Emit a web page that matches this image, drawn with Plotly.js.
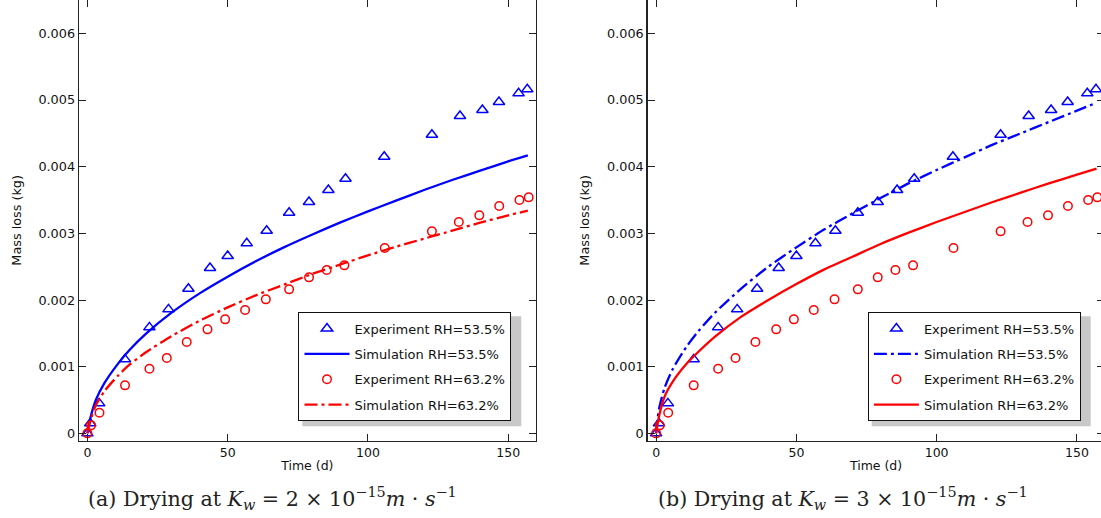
<!DOCTYPE html>
<html>
<head>
<meta charset="utf-8">
<script src="https://cdn.plot.ly/plotly-3.0.1.min.js"></script>
<style>
  html, body { margin: 0; padding: 0; overflow: hidden; background: #fff; }
  #chart { width: 1108px; height: 518px; }
</style>
</head>
<body>
<div id="chart"></div>
<script>
// ---- Data ----
const timeExp535 = [0, 1, 4.2, 13.4, 22.1, 28.9, 36, 43.7, 50, 56.8, 63.9, 71.9, 79, 85.9, 92, 105.8, 122.8, 132.8, 140.8, 146.7, 153.7, 156.8];
const massExp535 = [0, 0.00015, 0.00045, 0.00111, 0.00159, 0.00186, 0.00217, 0.00248, 0.00266, 0.00285, 0.00304, 0.00331, 0.00347, 0.00365, 0.00382, 0.00415, 0.00448, 0.00476, 0.00485, 0.00497, 0.00510, 0.00516];

const timeExp632 = [0, 1.3, 4.3, 13.4, 22.1, 28.3, 35.4, 42.8, 49.1, 56.2, 63.6, 71.9, 79, 85.3, 91.6, 106, 122.8, 132.4, 139.7, 146.8, 154, 157.3];
const massExp632 = [0, 0.00012, 0.00031, 0.00072, 0.00097, 0.00113, 0.00137, 0.00156, 0.00171, 0.00185, 0.00201, 0.00216, 0.00234, 0.00245, 0.00252, 0.00278, 0.00303, 0.00317, 0.00327, 0.00341, 0.00350, 0.00354];

const timeSim = [0, 1, 3, 6, 11, 15, 21, 30, 40, 50, 60, 70, 80, 90, 100, 110, 120, 130, 140, 150, 157];
// (a) Kw = 2e-15
const simA535 = [0, 0.00022, 0.00050, 0.00075, 0.00105, 0.00125, 0.00150, 0.00181, 0.00210, 0.00235, 0.00258, 0.00279, 0.00298, 0.00316, 0.00333, 0.00349, 0.00365, 0.00380, 0.00394, 0.00408, 0.00417];
const simA632 = [0, 0.00018, 0.00042, 0.00063, 0.00087, 0.00103, 0.00122, 0.00146, 0.00169, 0.00189, 0.00207, 0.00223, 0.00239, 0.00253, 0.00267, 0.00280, 0.00292, 0.00304, 0.00316, 0.00327, 0.00334];
// (b) Kw = 3e-15
const simB535 = [0, 0.00036, 0.00068, 0.00097, 0.00131, 0.00153, 0.00181, 0.00216, 0.00250, 0.00279, 0.00306, 0.00330, 0.00353, 0.00375, 0.00395, 0.00414, 0.00433, 0.00450, 0.00467, 0.00484, 0.00496];
const simB632 = [0, 0.00025, 0.00055, 0.00078, 0.00105, 0.00122, 0.00145, 0.00174, 0.00200, 0.00224, 0.00246, 0.00265, 0.00284, 0.00301, 0.00317, 0.00332, 0.00347, 0.00361, 0.00375, 0.00388, 0.00397];

const xTicks = [0, 50, 100, 150];
const yTicks = [0, 0.001, 0.002, 0.003, 0.004, 0.005, 0.006];
const yTickLabels = ['0', '0.001', '0.002', '0.003', '0.004', '0.005', '0.006'];
const labels = ['Experiment RH=53.5%', 'Simulation RH=53.5%', 'Experiment RH=63.2%', 'Simulation RH=63.2%'];
const captionA = '(a) Drying at <i>K</i><sub><i>w</i></sub> = 2 × 10<sup>−15</sup><i>m</i> · <i>s</i><sup>−1</sup>';
const captionB = '(b) Drying at <i>K</i><sub><i>w</i></sub> = 3 × 10<sup>−15</sup><i>m</i> · <i>s</i><sup>−1</sup>';

// ---- Styling ----
const BLUE = '#0000ff', RED = '#ff0000';
const DASHDOT = '13px,4px,3px,4px';
const W = 1108, H = 518;
const FONT = 'DejaVu Sans';

function expTrace(x, y, sym, color, name, xa, ya, lg, grp) {
  return { type: 'scatter', mode: 'markers', x: x, y: y, name: name, xaxis: xa, yaxis: ya, legend: lg, legendgroup: grp,
    marker: { symbol: sym, size: sym === 'circle-open' ? 8.5 : 10, color: color, line: { color: color, width: 1.5 } } };
}
function simTrace(x, y, dash, color, name, xa, ya, lg, grp) {
  return { type: 'scatter', mode: 'lines', x: x, y: y, name: name, xaxis: xa, yaxis: ya, legend: lg, legendgroup: grp,
    line: { color: color, width: 2.3, dash: dash, shape: 'spline', smoothing: 0.6 } };
}

const traces = [
  expTrace(timeExp535, massExp535, 'triangle-up-open', BLUE, labels[0], 'x', 'y', 'legend', 'a1'),
  simTrace(timeSim, simA535, 'solid', BLUE, labels[1], 'x', 'y', 'legend', 'a2'),
  expTrace(timeExp632, massExp632, 'circle-open', RED, labels[2], 'x', 'y', 'legend', 'a3'),
  simTrace(timeSim, simA632, DASHDOT, RED, labels[3], 'x', 'y', 'legend', 'a4'),
  expTrace(timeExp535, massExp535, 'triangle-up-open', BLUE, labels[0], 'x2', 'y2', 'legend2', 'b1'),
  simTrace(timeSim, simB535, DASHDOT, BLUE, labels[1], 'x2', 'y2', 'legend2', 'b2'),
  expTrace(timeExp632, massExp632, 'circle-open', RED, labels[2], 'x2', 'y2', 'legend2', 'b3'),
  simTrace(timeSim, simB632, 'solid', RED, labels[3], 'x2', 'y2', 'legend2', 'b4')
];

const plotBottom = 440.7;
const yDom = [(H - plotBottom) / H, 1];

function xAxis(domPx, anchor) {
  return {
    domain: [domPx[0] / W, domPx[1] / W], anchor: anchor, range: [-3, 159.8],
    tickvals: xTicks, ticks: 'inside', ticklen: 7, tickwidth: 1, tickcolor: '#222',
    showline: true, linecolor: '#222', linewidth: 1.4, mirror: 'ticks',
    showgrid: false, zeroline: false,
    tickfont: { family: FONT, size: 12.5, color: '#111' },
    title: { text: 'Time (d)', font: { family: FONT, size: 12.5, color: '#111' }, standoff: 2 }
  };
}
function yAxis(anchor) {
  return {
    domain: yDom, anchor: anchor, range: [-0.00011, 0.0065],
    tickvals: yTicks, ticktext: yTickLabels, ticks: 'inside', ticklen: 7, tickwidth: 1, tickcolor: '#222',
    showline: true, linecolor: '#222', linewidth: 1.4, mirror: 'ticks',
    showgrid: false, zeroline: false,
    tickfont: { family: FONT, size: 12.8, color: '#111' },
    title: { text: 'Mass loss (kg)', font: { family: FONT, size: 12.8, color: '#111' }, standoff: 14 }
  };
}
function legendAt(xPx, yPx) {
  return {
    x: xPx / W, y: 1 - yPx / H, xanchor: 'left', yanchor: 'top',
    bgcolor: '#ffffff', bordercolor: '#111', borderwidth: 1.2,
    font: { family: FONT, size: 13, color: '#111' },
    traceorder: 'grouped', tracegroupgap: 5.5, itemwidth: 45
  };
}
function shadow(x0, y0, x1, y1) {
  return { type: 'rect', xref: 'paper', yref: 'paper', x0: (x0 + 4) / W, x1: (x1 + 4) / W,
    y0: 1 - (y1 + 4) / H, y1: 1 - (y0 + 4) / H, fillcolor: '#c8c8c8', line: { width: 0 }, layer: 'above' };
}

const layout = {
  width: W, height: H,
  font: { family: FONT, size: 12.5, color: '#111' },
  margin: { l: 0, r: 0, t: 0, b: 0 },
  paper_bgcolor: '#ffffff', plot_bgcolor: '#ffffff',
  showlegend: true,
  xaxis: xAxis([79, 535.7], 'y'),
  yaxis: yAxis('x'),
  xaxis2: xAxis([647.7, 1104.4], 'y2'),
  yaxis2: yAxis('x2'),
  legend: legendAt(298.3, 312.3),
  legend2: legendAt(867.7, 312.3),
  shapes: [shadow(298.3, 312.3, 517.3, 422.3), shadow(867.7, 312.3, 1086.7, 422.3)],
  annotations: [
    { text: captionA, xref: 'paper', yref: 'paper', x: 272.5 / W, y: 1 - 498 / H, xanchor: 'center', yanchor: 'middle',
      showarrow: false, font: { family: 'DejaVu Serif', size: 20.6, color: '#222' } },
    { text: captionB, xref: 'paper', yref: 'paper', x: 843 / W, y: 1 - 498 / H, xanchor: 'center', yanchor: 'middle',
      showarrow: false, font: { family: 'DejaVu Serif', size: 20.6, color: '#222' } }
  ]
};

Plotly.newPlot('chart', traces, layout, { displayModeBar: false, staticPlot: true });
</script>
</body>
</html>
